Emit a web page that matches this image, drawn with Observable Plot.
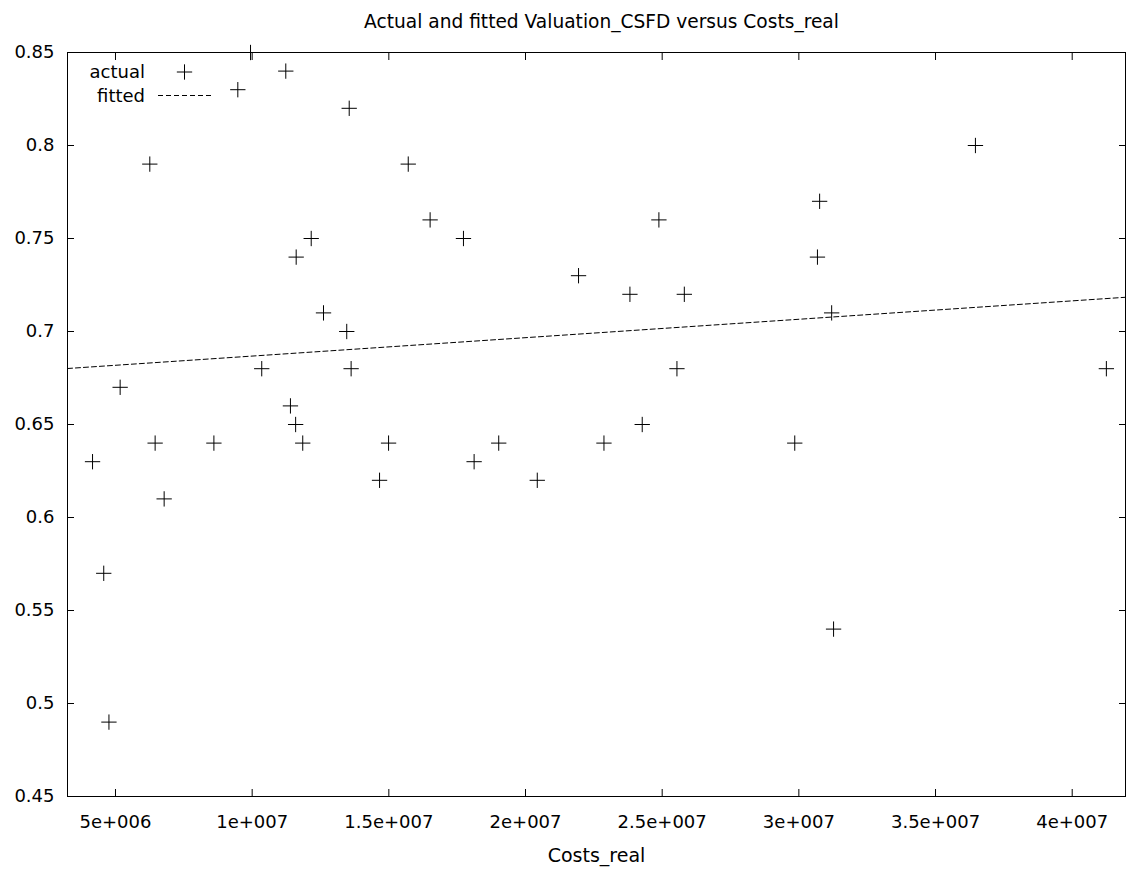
<!DOCTYPE html>
<html>
<head>
<meta charset="utf-8">
<script src="https://cdn.jsdelivr.net/npm/d3@7"></script>
<script src="https://cdn.jsdelivr.net/npm/@observablehq/plot@0.6"></script>
<style>
  html, body { margin: 0; padding: 0; background: #fff; }
  #chart svg { display: block; }
</style>
</head>
<body>
<div id="chart"></div>
<script>
// Data
const costsReal = [
  4.16e6, 4.57e6, 4.76e6, 5.17e6, 6.255e6, 6.45e6, 6.78e6, 8.60e6, 9.475e6, 9.94e6,
  10.35e6, 11.23e6, 11.40e6, 11.59e6, 11.61e6, 11.85e6, 12.16e6, 12.61e6, 13.46e6, 13.55e6,
  13.62e6, 14.66e6, 14.99e6, 15.71e6, 16.51e6, 17.73e6, 18.12e6, 19.02e6, 20.43e6, 21.94e6,
  22.87e6, 23.82e6, 24.27e6, 24.88e6, 25.54e6, 25.81e6, 29.85e6, 30.68e6, 30.76e6, 31.20e6,
  31.27e6, 36.46e6, 41.25e6
];
const valuationActual = [
  0.63, 0.57, 0.49, 0.67, 0.79, 0.64, 0.61, 0.64, 0.83, 0.85,
  0.68, 0.84, 0.66, 0.65, 0.74, 0.64, 0.75, 0.71, 0.70, 0.82,
  0.68, 0.62, 0.64, 0.79, 0.76, 0.75, 0.63, 0.64, 0.62, 0.73,
  0.64, 0.72, 0.65, 0.76, 0.68, 0.72, 0.64, 0.74, 0.77, 0.71,
  0.54, 0.80, 0.68
];
// Fitted line endpoints (at the edges of the x range)
const fittedX = [3.244e6, 41.95e6];
const fittedY = [0.6801, 0.7184];

const xDomain = [3.244e6, 41.95e6];
const yDomain = [0.45, 0.85];
const xTicks = [5e6, 1e7, 1.5e7, 2e7, 2.5e7, 3e7, 3.5e7, 4e7];
const xTickLabels = ["5e+006", "1e+007", "1.5e+007", "2e+007", "2.5e+007", "3e+007", "3.5e+007", "4e+007"];
const yTicks = [0.45, 0.5, 0.55, 0.6, 0.65, 0.7, 0.75, 0.8, 0.85];
const yTickLabels = ["0.45", "0.5", "0.55", "0.6", "0.65", "0.7", "0.75", "0.8", "0.85"];

const titleText = "Actual and fitted Valuation_CSFD versus Costs_real";
const xLabel = "Costs_real";
const legendLabels = ["actual", "fitted"];

const points = costsReal.map((c, i) => ({x: c, y: valuationActual[i]}));
const fitted = fittedX.map((c, i) => ({x: c, y: fittedY[i]}));

const noText = () => "";

const chart = Plot.plot({
  width: 1126,
  height: 870,
  marginLeft: 67,
  marginRight: 1,
  marginTop: 52,
  marginBottom: 74,
  style: {fontFamily: "'DejaVu Sans', sans-serif", fontSize: "18px", color: "#000", background: "#fff"},
  x: {domain: xDomain},
  y: {domain: yDomain},
  marks: [
    // inward tick marks on all four sides
    Plot.axisX(xTicks, {anchor: "bottom", tickSize: -7, tickFormat: noText, label: null, stroke: "#000"}),
    Plot.axisX(xTicks, {anchor: "top", tickSize: -7, tickFormat: noText, label: null, stroke: "#000"}),
    Plot.axisY(yTicks, {anchor: "left", tickSize: -7, tickFormat: noText, label: null, stroke: "#000"}),
    Plot.axisY(yTicks, {anchor: "right", tickSize: -7, tickFormat: noText, label: null, stroke: "#000"}),
    // tick labels
    Plot.axisX(xTicks, {anchor: "bottom", tickSize: 0, tickPadding: 19, tickFormat: (d, i) => xTickLabels[i], label: null, fill: "#000"}),
    Plot.axisY(yTicks, {anchor: "left", tickSize: 0, tickPadding: 13, tickFormat: (d, i) => yTickLabels[i], label: null, fill: "#000"}),
    Plot.frame({stroke: "#000", strokeWidth: 1}),
    Plot.line(fitted, {x: "x", y: "y", stroke: "#000", strokeWidth: 1, strokeDasharray: "5,3"}),
    Plot.dot(points, {x: "x", y: "y", symbol: "plus", r: 5, stroke: "#000", strokeWidth: 1}),
    Plot.text([titleText], {text: d => d, frameAnchor: "top", dx: 5, dy: -38, fill: "#000", fontSize: 18.6}),
    Plot.text([xLabel], {text: d => d, frameAnchor: "bottom", dy: 65, fill: "#000", fontSize: 19})
  ]
});

document.getElementById("chart").appendChild(chart);

// Key (legend) inside the plot area, top-left
const svg = d3.select(chart);
const g = svg.append("g").attr("font-family", "'DejaVu Sans', sans-serif").attr("font-size", 18).attr("fill", "#000");
const keyRows = [72, 95.5];
legendLabels.forEach((lab, i) => {
  g.append("text").attr("x", 145).attr("y", keyRows[i]).attr("dy", "0.34em").attr("text-anchor", "end").text(lab);
});
g.append("path")
  .attr("d", d3.symbol(d3.symbolPlus, Math.PI * 5 * 5)())
  .attr("transform", `translate(184.5,${keyRows[0]})`)
  .attr("fill", "none").attr("stroke", "#000").attr("stroke-width", 1);
g.append("line")
  .attr("x1", 158).attr("x2", 211).attr("y1", keyRows[1]).attr("y2", keyRows[1])
  .attr("stroke", "#000").attr("stroke-width", 1).attr("stroke-dasharray", "5,3");
</script>
</body>
</html>
